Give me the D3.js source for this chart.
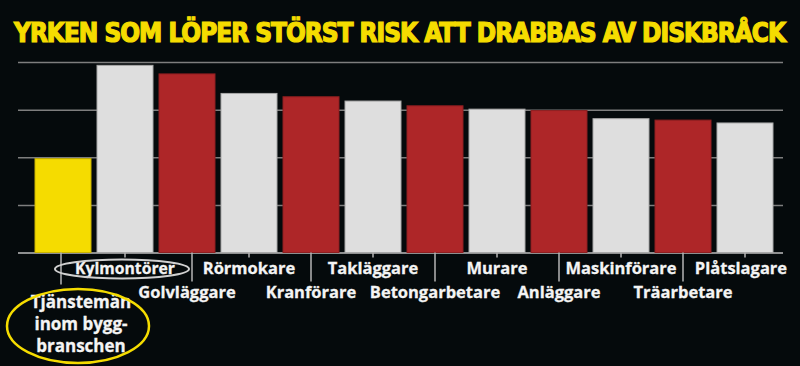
<!DOCTYPE html>
<html>
<head>
<meta charset="utf-8">
<script src="https://cdn.jsdelivr.net/npm/d3@7"></script>
<style>
  html, body { margin: 0; padding: 0; background: #050a0c; }
  svg { display: block; }
  .lbl { font-family: "Open Sans", Roboto, sans-serif; font-weight: 700; font-size: 16.5px; fill: #f4f4f4; }
</style>
</head>
<body>
<svg id="chart" width="800" height="366"></svg>
<script>
// yrken, i samma ordning som staplarna
var yrken = ["Tjänstemän inom bygg-branschen", "Kylmontörer", "Golvläggare", "Rörmokare", "Kranförare",
  "Takläggare", "Betongarbetare", "Murare", "Anläggare", "Maskinförare", "Träarbetare", "Plåtslagare"];
// relativ risk
var risk = [1.97, 3.93, 3.75, 3.34, 3.27, 3.18, 3.08, 3.01, 2.98, 2.81, 2.78, 2.72];
// stapeltyp: 0 = referens (gul), 1 = ljus, 2 = röd
var typ = [0, 1, 2, 1, 2, 1, 2, 1, 2, 1, 2, 1];
var gridTicks = [0, 1, 2, 3, 4];
var rubrik = "YRKEN SOM LÖPER STÖRST RISK ATT DRABBAS AV DISKBRÅCK";

var fargs = ["#f5dc00", "#dedede", "#ae2628"];
var kanter = ["#c9b200", "#a8a8a8", "#8e1e20"];

var svg = d3.select("#chart");

var x = d3.scaleBand()
  .domain(yrken)
  .range([32, 776])
  .paddingInner(6 / 62)
  .paddingOuter(3 / 62);

var y = d3.scaleLinear().domain([0, 4]).range([252.5, 62]);

// rubrik
svg.append("text")
  .attr("x", 14)
  .attr("y", 42)
  .attr("textLength", 771)
  .attr("lengthAdjust", "spacingAndGlyphs")
  .style("font-family", "'DejaVu Sans Condensed', 'DejaVu Sans', sans-serif")
  .style("font-stretch", "condensed")
  .style("font-weight", 700)
  .style("font-size", "26px")
  .style("letter-spacing", "-1px")
  .attr("fill", "#f5dc00")
  .attr("stroke", "#f5dc00")
  .attr("stroke-width", 1.2)
  .text(rubrik);

// stödlinjer
var grid = svg.append("g")
  .attr("transform", "translate(18,0)")
  .call(d3.axisLeft(y).tickValues(gridTicks).tickSize(-765).tickFormat(""));
grid.select(".domain").remove();
grid.selectAll(".tick line")
  .attr("stroke", function (d) { return d === 0 ? "#bdbdbd" : "#7e7e7e"; })
  .attr("stroke-width", 1.5);

// staplar
svg.append("g").selectAll("rect")
  .data(yrken)
  .join("rect")
  .attr("x", function (d) { return x(d); })
  .attr("y", function (d, i) { return y(risk[i]); })
  .attr("width", x.bandwidth())
  .attr("height", function (d, i) { return y(0) - y(risk[i]); })
  .attr("fill", function (d, i) { return fargs[typ[i]]; })
  .attr("stroke", function (d, i) { return kanter[typ[i]]; })
  .attr("stroke-width", 1);

// streck under staplarna: korta för övre raden, långa för nedre raden
var base = y(0);
svg.append("g").selectAll("line")
  .data(yrken)
  .join("line")
  .attr("x1", function (d, i) { return x(d) + x.bandwidth() / 2 + (i === 0 ? -2 : i === 2 ? 5 : 0); })
  .attr("x2", function (d, i) { return x(d) + x.bandwidth() / 2 + (i === 0 ? -2 : i === 2 ? 5 : 0); })
  .attr("y1", base)
  .attr("y2", function (d, i) { return i === 0 ? base + 32 : (i % 2 === 0 ? base + 29 : base + 5); })
  .attr("stroke", "#b5b5b5")
  .attr("stroke-width", 1.5);

// etiketter
var lbls = svg.append("g");
yrken.forEach(function (d, i) {
  if (i === 0) return;
  var cx = x(d) + x.bandwidth() / 2;
  if (i === yrken.length - 1) cx -= 4;
  var t = lbls.append("text")
    .attr("class", "lbl")
    .attr("x", cx)
    .attr("y", i % 2 === 1 ? 274 : 298)
    .attr("text-anchor", "middle")
    .attr("stroke", "#f4f4f4")
    .attr("stroke-width", 0.3)
    .text(d);
  // namnet i ringen är smalare i originalet
  if (i === 1) t.attr("textLength", 100).attr("lengthAdjust", "spacingAndGlyphs");
});

// referensgruppen, tre rader
var ref = x(yrken[0]) + x.bandwidth() / 2 + 18;
var refRader = ["Tjänstemän", "inom bygg-", "branschen"];
lbls.selectAll("text.ref")
  .data(refRader)
  .join("text")
  .attr("class", "lbl ref")
  .attr("x", ref)
  .attr("y", function (d, i) { return 308 + i * 22; })
  .attr("text-anchor", "middle")
  .style("font-size", "17px")
  .attr("stroke", "#f4f4f4")
  .attr("stroke-width", 0.3)
  .text(function (d) { return d; });

// ringar
svg.append("ellipse")
  .attr("cx", x(yrken[0]) + x.bandwidth() / 2 + 15)
  .attr("cy", 326)
  .attr("rx", 71)
  .attr("ry", 37)
  .attr("fill", "none")
  .attr("stroke", "#f5dc00")
  .attr("stroke-width", 2.5);

svg.append("ellipse")
  .attr("cx", x(yrken[1]) + x.bandwidth() / 2 - 3)
  .attr("cy", 269)
  .attr("rx", 67)
  .attr("ry", 9.5)
  .attr("fill", "none")
  .attr("stroke", "#d0d0d0")
  .attr("stroke-width", 2);
</script>
</body>
</html>
